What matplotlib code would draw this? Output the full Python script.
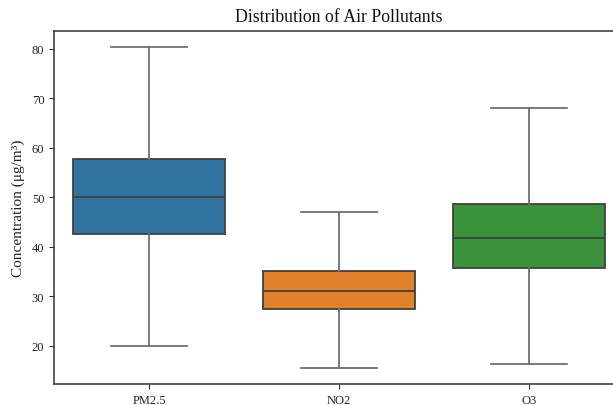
import matplotlib
matplotlib.use("Agg")
import matplotlib.pyplot as plt

categories = ["PM2.5", "NO2", "O3"]
whisker_low = [20.0, 15.5, 16.3]
q1 = [42.6, 27.4, 35.7]
median = [50.0, 31.0, 41.8]
q3 = [57.7, 35.15, 48.7]
whisker_high = [80.4, 47.05, 68.1]
colors = ["#3274a1", "#e1812c", "#3a923a"]

plt.rcParams['font.family'] = ['Liberation Serif', 'DejaVu Serif']

W, H = 613, 406
fig = plt.figure(figsize=(W / 100, H / 100), dpi=100)
ax = fig.add_axes([54 / W, 1 - 385 / H, 570 / W, (385 - 31.5) / H])

stats = []
for i, c in enumerate(categories):
    stats.append(dict(label=c, whislo=whisker_low[i], q1=q1[i], med=median[i],
                      q3=q3[i], whishi=whisker_high[i], fliers=[]))

line_c = "#404040"
wh_c = "#707070"
bp = ax.bxp(stats, positions=range(len(categories)), widths=0.8, patch_artist=True,
            showfliers=False,
            boxprops=dict(edgecolor=line_c, linewidth=1.3),
            medianprops=dict(color=line_c, linewidth=1.3),
            whiskerprops=dict(color=wh_c, linewidth=1.3),
            capprops=dict(color=wh_c, linewidth=1.3),
            capwidths=0.4)
for patch, col in zip(bp['boxes'], colors):
    patch.set_facecolor(col)

ax.set_xlim(-0.5, 2.5)
ax.set_ylim(12.26, 83.7)
ax.set_yticks([20, 30, 40, 50, 60, 70, 80])
ax.set_xticks(range(len(categories)))
ax.set_xticklabels(categories)
ax.tick_params(labelsize=9, color="#333333", labelcolor="#222222", length=3.5)
for s in ax.spines.values():
    s.set_color("#333333")
    s.set_linewidth(1.1)

ax.set_title("Distribution of Air Pollutants", fontsize=12.75, pad=7, color="#111111")
ax.set_ylabel("Concentration (μg/m³)", fontsize=11, color="#222222", labelpad=5)

fig.savefig("out.png", dpi=100)
